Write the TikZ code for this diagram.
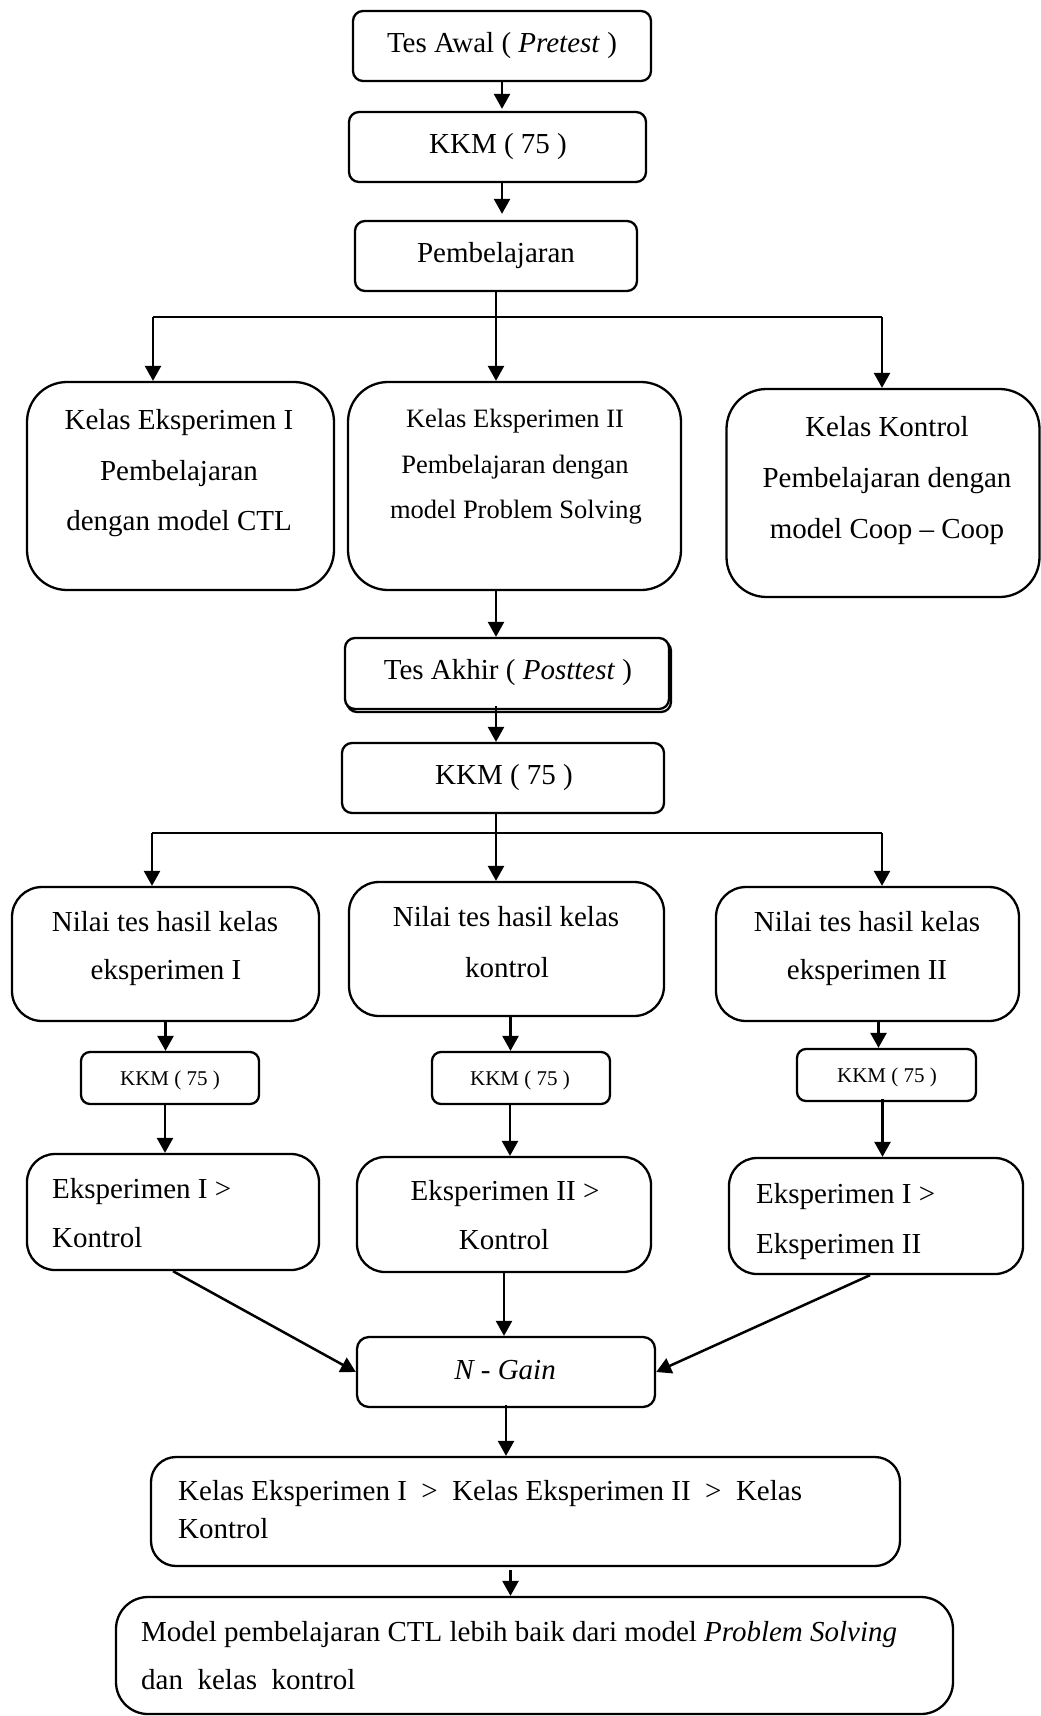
\documentclass[tikz,border=0pt]{standalone}
\usepackage{fontspec}
\setmainfont{Liberation Serif}
\usetikzlibrary{arrows.meta,shadows}
\begin{document}
\begin{tikzpicture}[x=1pt,y=-1pt,
  box/.style={draw, line width=2.3pt, rounded corners=#1, inner sep=0pt, fill=white},
  box/.default=10pt,
  t/.style={inner sep=0pt, anchor=base, font=\fontsize{29}{35}\selectfont},
  tl/.style={inner sep=0pt, anchor=base west, font=\fontsize{29}{35}\selectfont},
  ts/.style={inner sep=0pt, anchor=base, font=\fontsize{26.5}{32}\selectfont},
  tk/.style={inner sep=0pt, anchor=base, font=\fontsize{21}{26}\selectfont},
  arr/.style={line width=2.5pt, -{Triangle[length=15pt,width=16pt]}},
  ln/.style={line width=2.5pt}]
\useasboundingbox (0,0) rectangle (1041,1716);

% top chain
\node[box=10pt, minimum width=298pt, minimum height=70pt] (tesawal) at (502,46) {};
\node[t] (tesawal-t) at (502,52) {Tes Awal ( \textit{Pretest} )};
\node[box=10pt, minimum width=297pt, minimum height=70pt] (kkm1) at (497.5,147) {};
\node[t] (kkm1-t) at (498,153) {KKM ( 75 )};
\node[box=10pt, minimum width=282pt, minimum height=70pt] (pemb) at (496,256) {};
\node[t] (pemb-t) at (496,262) {Pembelajaran};

% three classes
\node[box=40pt, minimum width=307pt, minimum height=208pt] (eks1) at (180.5,486) {};
\node[t] (eks1-a) at (179,429) {Kelas Eksperimen I};
\node[t] (eks1-b) at (179,480) {Pembelajaran};
\node[t] (eks1-c) at (179,530) {dengan model CTL};

\node[box=40pt, minimum width=333pt, minimum height=208pt] (eks2) at (514.5,486) {};
\node[ts] (eks2-a) at (515,427) {Kelas Eksperimen II};
\node[ts] (eks2-b) at (515,473) {Pembelajaran dengan};
\node[ts] (eks2-c) at (516,518) {model Problem Solving};

\node[box=40pt, minimum width=313pt, minimum height=208pt] (kon) at (883,493) {};
\node[t] (kon-a) at (887,436) {Kelas Kontrol};
\node[t] (kon-b) at (887,487) {Pembelajaran dengan};
\node[t] (kon-c) at (887,538) {model Coop -- Coop};

% posttest
\node[box=10pt, minimum width=324pt, minimum height=71pt,
  copy shadow={shadow xshift=2pt, shadow yshift=-3pt}] (tesakhir) at (507,673.5) {};
\node[t] (tesakhir-t) at (508,679) {Tes Akhir ( \textit{Posttest} )};
\node[box=10pt, minimum width=322pt, minimum height=70pt] (kkm2) at (503,778) {};
\node[t] (kkm2-t) at (504,784) {KKM ( 75 )};

% scores
\node[box=30pt, minimum width=307pt, minimum height=134pt] (nil1) at (165.5,954) {};
\node[t] (nil1-a) at (165,931) {Nilai tes hasil kelas};
\node[t] (nil1-b) at (166,979) {eksperimen I};
\node[box=30pt, minimum width=315pt, minimum height=134pt] (nilk) at (506.5,949) {};
\node[t] (nilk-a) at (506,926) {Nilai tes hasil kelas};
\node[t] (nilk-b) at (507,977) {kontrol};
\node[box=30pt, minimum width=303pt, minimum height=134pt] (nil2) at (867.5,954) {};
\node[t] (nil2-a) at (867,931) {Nilai tes hasil kelas};
\node[t] (nil2-b) at (867,979) {eksperimen II};

% small KKM
\node[box=9pt, minimum width=178pt, minimum height=52pt] (sk1) at (170,1078) {};
\node[tk] (sk1-t) at (170,1085) {KKM ( 75 )};
\node[box=9pt, minimum width=178pt, minimum height=52pt] (sk2) at (521,1078) {};
\node[tk] (sk2-t) at (520,1085) {KKM ( 75 )};
\node[box=9pt, minimum width=179pt, minimum height=52pt] (sk3) at (886.5,1075) {};
\node[tk] (sk3-t) at (887,1082) {KKM ( 75 )};

% results
\node[box=28pt, minimum width=292pt, minimum height=116pt] (res1) at (173,1212) {};
\node[tl] (res1-a) at (52,1198) {Eksperimen I >};
\node[tl] (res1-b) at (52,1247) {Kontrol};
\node[box=28pt, minimum width=294pt, minimum height=115pt] (res2) at (504,1214.5) {};
\node[t] (res2-a) at (505,1200) {Eksperimen II >};
\node[t] (res2-b) at (504,1249) {Kontrol};
\node[box=28pt, minimum width=294pt, minimum height=116pt] (res3) at (876,1216) {};
\node[tl] (res3-a) at (756,1203) {Eksperimen I >};
\node[tl] (res3-b) at (756,1253) {Eksperimen II};

% N-Gain
\node[box=12pt, minimum width=298pt, minimum height=70pt] (ngain) at (506,1372) {};
\node[t] (ngain-t) at (505,1379) {\textit{N - Gain}};

% conclusions
\node[box=25pt, minimum width=749pt, minimum height=109pt] (fin1) at (525.5,1511.5) {};
\node[tl] (fin1-a) at (178,1500) {Kelas Eksperimen I \ > \ Kelas Eksperimen II \ > \ Kelas};
\node[tl] (fin1-b) at (178,1538) {Kontrol};
\node[box=32pt, minimum width=837pt, minimum height=117pt] (fin2) at (534.5,1655.5) {};
\node[tl] (fin2-a) at (141,1641) {Model pembelajaran CTL lebih baik dari model \textit{Problem Solving}};
\node[tl] (fin2-b) at (141,1689) {dan \ kelas \ kontrol};

% connectors
\draw[arr] (tesawal.south) -- ([yshift=2pt]tesawal.south |- kkm1.north);
\draw[arr] (tesawal.south |- kkm1.south) -- ([yshift=6pt]tesawal.south |- pemb.north);

\coordinate (bl1) at (153,317);
\coordinate (br1) at (882,317);
\draw[ln] (bl1) -- (br1);
\draw[arr] (bl1) -- (bl1 |- eks1.north);
\draw[arr] (pemb.south) -- (pemb.south |- eks2.north);
\draw[arr] (br1) -- (br1 |- kon.north);

\draw[arr] (pemb.south |- eks2.south) -- (pemb.south |- tesakhir.north);
\draw[arr] ([yshift=4pt]pemb.south |- tesakhir.south) -- (pemb.south |- kkm2.north);

\coordinate (bl2) at (152,833);
\coordinate (br2) at (882,833);
\draw[ln] (bl2) -- (br2);
\draw[arr] (pemb.south |- kkm2.south) -- (pemb.south |- nilk.north);
\draw[arr] (bl2) -- (bl2 |- nil1.north);
\draw[arr] (br2) -- (br2 |- nil2.north);

\draw[arr] (nil1.south) -- (nil1.south |- sk1.north);
\draw[arr] ([xshift=4pt]nilk.south) -- ([xshift=4pt]nilk.south |- sk2.north);
\draw[arr] ([xshift=-8pt]sk3.north |- nil2.south) -- ([xshift=-8pt]sk3.north);

\draw[arr] ([xshift=-5pt]sk1.south) -- ([xshift=-5pt]sk1.south |- res1.north);
\draw[arr] ([xshift=-11pt]sk2.south) -- ([xshift=-11pt]sk2.south |- res2.north);
\draw[arr] ([xshift=-4pt,yshift=3pt]sk3.south) -- ([xshift=-4pt]sk3.south |- res3.north);

\draw[arr] (res1.south) -- (ngain.west);
\draw[arr] (res2.south) -- (res2.south |- ngain.north);
\draw[arr] ([xshift=-6pt]res3.south) -- (ngain.east);

\draw[arr] ([yshift=3pt]ngain.south) -- (ngain.south |- fin1.north);
\draw[arr] ([xshift=-15pt,yshift=-3pt]fin1.south) -- ([xshift=-15pt]fin1.south |- fin2.north);
\end{tikzpicture}
\end{document}
